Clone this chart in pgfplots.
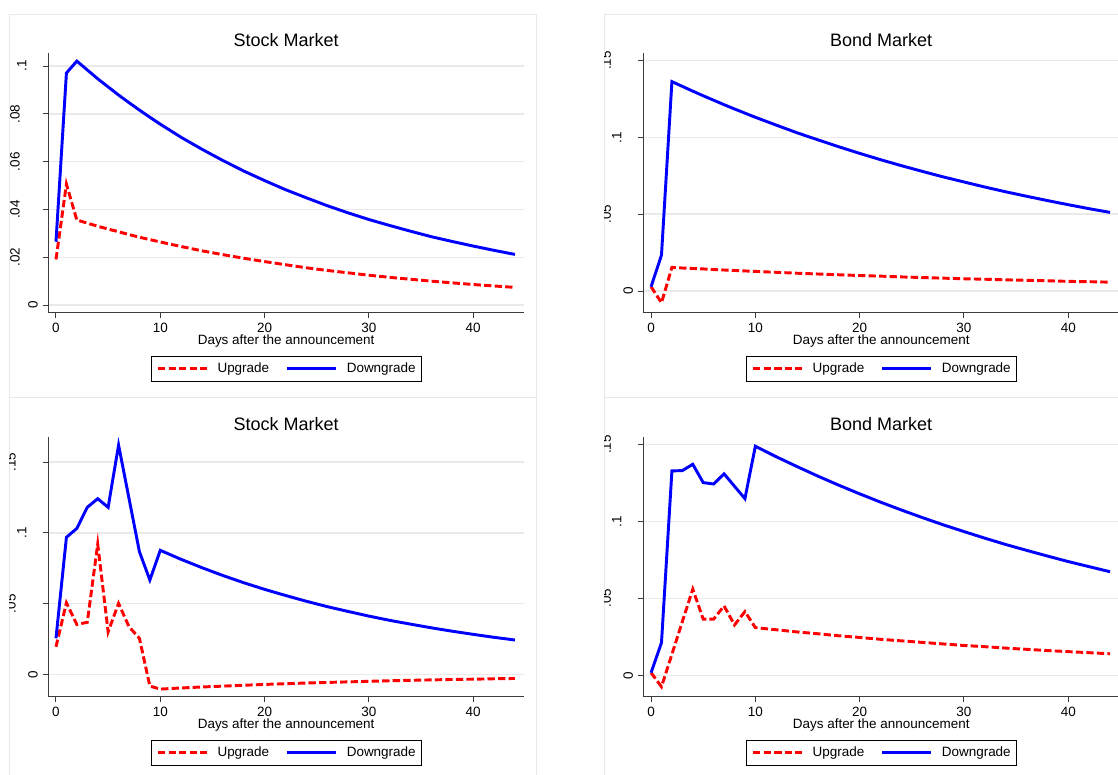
\documentclass[border=0pt]{standalone}
\usepackage{pgfplots}
\pgfplotsset{compat=1.18}
\usepackage{fontspec}
\setmainfont{Liberation Sans}
\definecolor{sred}{RGB}{255,0,0}
\definecolor{sblue}{RGB}{0,0,255}
\definecolor{gridc}{RGB}{234,234,234}
\definecolor{framec}{RGB}{232,232,232}
\definecolor{axc}{RGB}{60,60,60}
\newcommand{\tfont}{\fontsize{10.1}{12}\selectfont}
\tikzset{
  up/.style={sred, line width=2.2pt, dash pattern=on 5.5pt off 2.4pt},
  down/.style={sblue, line width=2.2pt},
}
\pgfplotsset{
 panel/.style={
  scale only axis, width=356.8pt, height=195pt,
  xmin=-0.74, xmax=44.87,
  axis x line*=bottom, axis y line*=left,
  axis line style={-, axc, line width=0.75pt},
  tick style={axc, line width=0.75pt},
  tick align=outside, major tick length=4.2pt,
  tick pos=left,
  scaled y ticks=false,
  ymajorgrids, major grid style={gridc, line width=1.1pt},
  xtick={0,10,20,30,40}, xticklabels={0,10,20,30,40},
  xticklabel style={anchor=north, inner sep=0pt, yshift=-3.7pt, font=\tfont},
  yticklabel style={rotate=90, anchor=south, inner sep=0pt, font=\tfont},
  title style={at={(axis description cs:0.5,1)}, anchor=base, yshift=-1pt, inner sep=0pt, font=\fontsize{13.5}{16}\selectfont},
  xlabel={Days after the announcement},
  xlabel style={at={(axis description cs:0.5,0)}, anchor=base, yshift=-23.9pt, inner sep=0pt, font=\tfont},
  legend columns=2,
  legend style={at={(axis description cs:0.5,0)}, anchor=center, yshift=-42pt, draw=black, line width=0.7pt, inner xsep=4.1pt, inner ysep=5pt, font=\tfont, nodes={inner sep=0pt}, /tikz/every odd column/.append style={column sep=6.75pt}, /tikz/every even column/.append style={column sep=12.5pt}},
  legend image code/.code={\draw[##1] (0pt,0pt) -- (36.75pt,0pt);},
  legend cell align=left,
 }
}
\begin{document}
\begin{tikzpicture}
\useasboundingbox (0,0) rectangle (838.5pt,581.25pt);
\fill[white] (0,0) rectangle (838.5pt,581.25pt);
\draw[framec, line width=0.75pt] (7.1pt,282.75pt) rectangle (402.5pt,570pt);
\draw[framec, line width=0.75pt] (453.2pt,282.75pt) rectangle (850pt,570pt);
\draw[framec, line width=0.75pt] (7.1pt,-10pt) rectangle (402.5pt,282.75pt);
\draw[framec, line width=0.75pt] (453.2pt,-10pt) rectangle (850pt,282.75pt);

% Panel 1
\begin{scope}
\clip (7.1pt,282.75pt) rectangle (402.5pt,570pt);
\begin{axis}[panel, at={(36.2pt,346.7pt)}, anchor=south west,
  ymin=-0.0032, ymax=0.1056, ytick={0,0.02,0.04,0.06,0.08,0.1},
  yticklabels={\raisebox{3.5pt}{0},\raisebox{17pt}{.02},\raisebox{17pt}{.04},\raisebox{17pt}{.06},\raisebox{17pt}{.08},\raisebox{12pt}{.1}},
  title={Stock Market}]
\addplot[up] coordinates {(0,0.0191)(1,0.0506)(2,0.0356)(3,0.0343)(4,0.0330)(5,0.0318)(6,0.0307)(7,0.0295)(8,0.0284)(9,0.0274)(10,0.0264)(12,0.0245)(14,0.0227)(16,0.0211)(18,0.0196)(20,0.0182)(22,0.0169)(24,0.0156)(26,0.0145)(28,0.0135)(30,0.0125)(32,0.0116)(34,0.0108)(36,0.0100)(38,0.0093)(40,0.0086)(42,0.0080)(44,0.0074)};
\addlegendentry{Upgrade}
\addplot[down] coordinates {(0,0.0265)(1,0.0971)(2,0.1021)(3,0.0984)(4,0.0947)(5,0.0913)(6,0.0879)(7,0.0847)(8,0.0816)(9,0.0786)(10,0.0757)(12,0.0702)(14,0.0652)(16,0.0605)(18,0.0561)(20,0.0521)(22,0.0483)(24,0.0449)(26,0.0416)(28,0.0386)(30,0.0358)(32,0.0333)(34,0.0309)(36,0.0286)(38,0.0266)(40,0.0247)(42,0.0229)(44,0.0212)};
\addlegendentry{Downgrade}
\end{axis}
\end{scope}

% Panel 2
\begin{scope}
\clip (453.2pt,282.75pt) rectangle (850pt,570pt);
\begin{axis}[panel, at={(482.5pt,346.7pt)}, anchor=south west,
  ymin=-0.0141, ymax=0.1551, ytick={0,0.05,0.1,0.15},
  yticklabels={\raisebox{3.5pt}{0},\raisebox{20pt}{.05},\raisebox{12pt}{.1},\raisebox{20pt}{.15}},
  title={Bond Market}]
\addplot[up] coordinates {(0,0.0028)(1,-0.0076)(2,0.0154)(3,0.0150)(4,0.0147)(5,0.0144)(6,0.0140)(7,0.0137)(8,0.0134)(9,0.0131)(10,0.0128)(12,0.0122)(14,0.0116)(16,0.0111)(18,0.0106)(20,0.0101)(22,0.0097)(24,0.0092)(26,0.0088)(28,0.0084)(30,0.0080)(32,0.0077)(34,0.0073)(36,0.0070)(38,0.0067)(40,0.0063)(42,0.0061)(44,0.0058)};
\addlegendentry{Upgrade}
\addplot[down] coordinates {(0,0.0028)(1,0.0234)(2,0.1363)(3,0.1332)(4,0.1301)(5,0.1271)(6,0.1242)(7,0.1213)(8,0.1185)(9,0.1158)(10,0.1131)(12,0.1080)(14,0.1030)(16,0.0984)(18,0.0939)(20,0.0896)(22,0.0855)(24,0.0816)(26,0.0779)(28,0.0743)(30,0.0710)(32,0.0677)(34,0.0646)(36,0.0617)(38,0.0589)(40,0.0562)(42,0.0536)(44,0.0512)};
\addlegendentry{Downgrade}
\end{axis}
\end{scope}

% Panel 3
\begin{scope}
\clip (7.1pt,-10pt) rectangle (402.5pt,282.75pt);
\begin{axis}[panel, at={(36.2pt,58.7pt)}, anchor=south west,
  ymin=-0.0158, ymax=0.168, ytick={0,0.05,0.1,0.15},
  yticklabels={\raisebox{3.5pt}{0},\raisebox{20pt}{.05},\raisebox{12pt}{.1},\raisebox{20pt}{.15}},
  title={Stock Market}]
\addplot[up] coordinates {(0,0.0195)(1,0.0506)(2,0.0353)(3,0.0368)(4,0.0921)(5,0.0301)(6,0.0502)(7,0.0337)(8,0.0255)(9,-0.0083)(10,-0.0104)(12,-0.0096)(14,-0.0089)(16,-0.0083)(18,-0.0077)(20,-0.0071)(22,-0.0066)(24,-0.0061)(26,-0.0057)(28,-0.0053)(30,-0.0049)(32,-0.0045)(34,-0.0042)(36,-0.0039)(38,-0.0036)(40,-0.0034)(42,-0.0031)(44,-0.0029)};
\addlegendentry{Upgrade}
\addplot[down] coordinates {(0,0.0255)(1,0.0969)(2,0.1032)(3,0.1181)(4,0.1242)(5,0.1181)(6,0.1621)(7,0.1244)(8,0.0867)(9,0.0667)(10,0.0877)(12,0.0813)(14,0.0754)(16,0.0699)(18,0.0648)(20,0.0601)(22,0.0558)(24,0.0517)(26,0.0479)(28,0.0445)(30,0.0412)(32,0.0382)(34,0.0355)(36,0.0329)(38,0.0305)(40,0.0283)(42,0.0262)(44,0.0243)};
\addlegendentry{Downgrade}
\end{axis}
\end{scope}

% Panel 4
\begin{scope}
\clip (453.2pt,-10pt) rectangle (850pt,282.75pt);
\begin{axis}[panel, at={(482.5pt,58.7pt)}, anchor=south west,
  ymin=-0.0139, ymax=0.155, ytick={0,0.05,0.1,0.15},
  yticklabels={\raisebox{3.5pt}{0},\raisebox{20pt}{.05},\raisebox{12pt}{.1},\raisebox{20pt}{.15}},
  title={Bond Market}]
\addplot[up] coordinates {(0,0.0017)(1,-0.0074)(2,0.0137)(3,0.0349)(4,0.0560)(5,0.0365)(6,0.0365)(7,0.0451)(8,0.0327)(9,0.0414)(10,0.0310)(12,0.0296)(14,0.0282)(16,0.0270)(18,0.0257)(20,0.0246)(22,0.0234)(24,0.0224)(26,0.0214)(28,0.0204)(30,0.0194)(32,0.0186)(34,0.0177)(36,0.0169)(38,0.0161)(40,0.0154)(42,0.0147)(44,0.0140)};
\addlegendentry{Upgrade}
\addplot[down] coordinates {(0,0.0017)(1,0.0212)(2,0.1328)(3,0.1330)(4,0.1371)(5,0.1252)(6,0.1243)(7,0.1309)(8,0.1228)(9,0.1148)(10,0.1488)(12,0.1420)(14,0.1356)(16,0.1294)(18,0.1235)(20,0.1179)(22,0.1125)(24,0.1074)(26,0.1025)(28,0.0978)(30,0.0934)(32,0.0891)(34,0.0850)(36,0.0812)(38,0.0775)(40,0.0739)(42,0.0706)(44,0.0673)};
\addlegendentry{Downgrade}
\end{axis}
\end{scope}
\end{tikzpicture}
\end{document}
